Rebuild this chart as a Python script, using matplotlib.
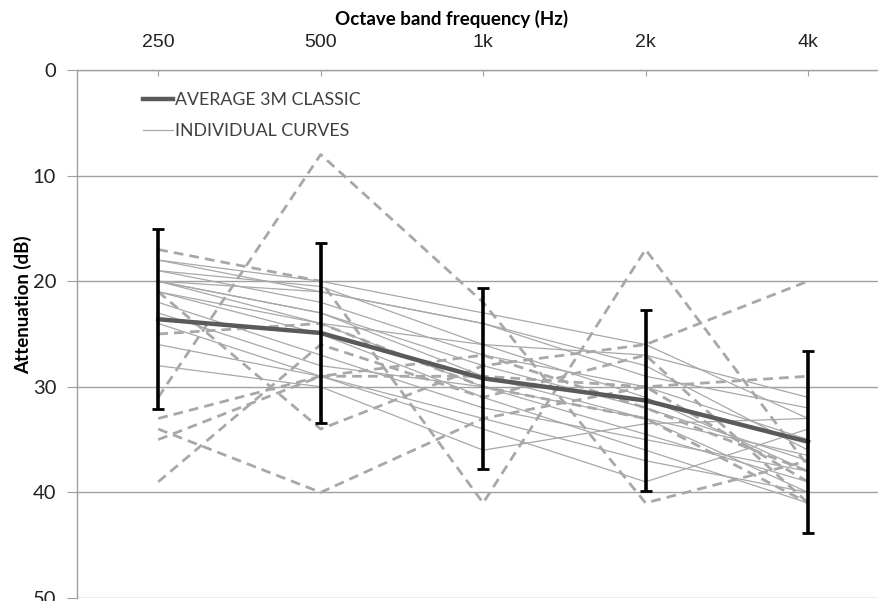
import matplotlib
matplotlib.use("Agg")
import matplotlib.pyplot as plt
from matplotlib.lines import Line2D

# Octave bands
bands = ["250", "500", "1k", "2k", "4k"]

# Average attenuation and standard deviation per band (dB)
average = [23.6, 24.9, 29.2, 31.3, 35.2]
std_dev = [8.5, 8.5, 8.55, 8.6, 8.6]

# Individual attenuation curves (dB), solid style
curve_01 = [18, 20, 23, 26, 33]
curve_02 = [18, 21, 24, 28, 36]
curve_03 = [19, 20.5, 26, 31, 38]
curve_04 = [19, 22, 27, 30, 35]
curve_05 = [20, 23, 29, 33, 40]
curve_06 = [20, 21, 24, 29, 32]
curve_07 = [20, 24, 30, 34.5, 39]
curve_08 = [20, 23, 28, 32, 37]
curve_09 = [21, 25, 31, 36, 41]
curve_10 = [21, 24, 26, 27, 31]
curve_11 = [22, 27, 32, 35, 38]
curve_12 = [23, 28, 30, 33, 36.5]
curve_13 = [24, 29, 33, 37, 40]
curve_14 = [26, 29, 34, 39, 34]
curve_15 = [28, 30, 36, 33.5, 33]

# Individual attenuation curves (dB), dashed style
dashed_01 = [31, 8, 22, 41, 37]
dashed_02 = [17, 20, 41, 17, 37.5]
dashed_03 = [21, 34, 28, 26, 20]
dashed_04 = [39, 26, 31, 27, 41]
dashed_05 = [35, 29, 29, 30, 29]
dashed_06 = [33, 29, 27, 32, 38]
dashed_07 = [34, 40, 33, 30, 39]
dashed_08 = [25, 24, 30, 33, 41]

solid_curves = [curve_01, curve_02, curve_03, curve_04, curve_05, curve_06,
                curve_07, curve_08, curve_09, curve_10, curve_11, curve_12,
                curve_13, curve_14, curve_15]
dashed_curves = [dashed_01, dashed_02, dashed_03, dashed_04,
                 dashed_05, dashed_06, dashed_07, dashed_08]

y_ticks = [0, 10, 20, 30, 40, 50]

LIGHT = "#a8a8a8"
DARK = "#5a5a5a"
GRID = "#a0a0a0"

fig = plt.figure(figsize=(8.79, 6.01), dpi=100)
ax = fig.add_axes([0.0876, 0.005, 0.9124, 0.8785])

x = list(range(len(bands)))

for c in solid_curves:
    ax.plot(x, c, color=LIGHT, lw=0.9, zorder=2)
for c in dashed_curves:
    ax.plot(x, c, color=LIGHT, lw=2.0, dashes=(3.5, 2.2), zorder=2)

ax.plot(x, average, color=DARK, lw=3.2, zorder=4)
ax.errorbar(x, average, yerr=std_dev, fmt="none", ecolor="black",
            elinewidth=2.6, capsize=4, capthick=2, zorder=5)

ax.set_xlim(-0.5, 4.437)
ax.set_ylim(50, 0)
ax.set_yticks(y_ticks)
ax.set_yticklabels([str(v) for v in y_ticks], fontsize=14.5,
                   family="Lato", color="#222222")

ax.xaxis.tick_top()
ax.xaxis.set_label_position("top")
ax.set_xticks(x)
ax.set_xticklabels(bands, fontsize=14, family="Liberation Sans", color="#222222")
ax.tick_params(axis="x", direction="in", length=4, color=GRID, pad=14)
ax.tick_params(axis="y", direction="out", length=7, color=GRID, pad=8)
ax.set_xlabel("Octave band frequency (Hz)", fontsize=13.5, family="Lato",
              fontweight="bold")
ax.xaxis.set_label_coords(0.4676, 1.085)
ax.set_ylabel("Attenuation (dB)", fontsize=13.5, family="Lato",
              fontweight="bold")
ax.yaxis.set_label_coords(-0.056, 0.555)

ax.yaxis.grid(True, color=GRID, lw=1.0)
ax.set_axisbelow(True)
for side in ("right", "bottom"):
    ax.spines[side].set_visible(False)
for side in ("left", "top"):
    ax.spines[side].set_color(GRID)
    ax.spines[side].set_linewidth(1.0)

handles = [Line2D([], [], color=DARK, lw=3.2),
           Line2D([], [], color=LIGHT, lw=0.9)]
leg = ax.legend(handles, ["AVERAGE 3M CLASSIC", "INDIVIDUAL CURVES"],
                loc="upper left", bbox_to_anchor=(0.062, 0.988), frameon=False,
                handlelength=1.7, handletextpad=0.1, labelspacing=0.85,
                prop={"family": "Lato", "size": 12.8})
for t in leg.get_texts():
    t.set_color("#404040")

fig.savefig("out.png", dpi=100)
